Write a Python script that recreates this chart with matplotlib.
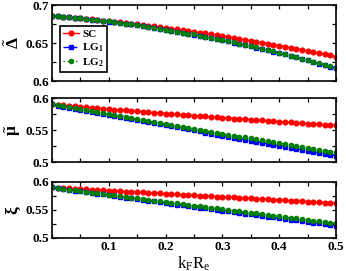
import matplotlib
matplotlib.use('Agg')
import matplotlib.pyplot as plt
from matplotlib.ticker import MultipleLocator

plt.rcParams['font.family'] = ['Liberation Serif', 'DejaVu Serif']
plt.rcParams['font.weight'] = 'bold'
plt.rcParams['mathtext.fontset'] = 'custom'
plt.rcParams['mathtext.rm'] = 'Liberation Serif:bold'
plt.rcParams['mathtext.it'] = 'Liberation Serif:bold'
plt.rcParams['mathtext.bf'] = 'Liberation Serif:bold'

# k_F R_e grid
kfre = [0.00, 0.01, 0.02, 0.03, 0.04, 0.05, 0.06, 0.07, 0.08, 0.09,
        0.10, 0.11, 0.12, 0.13, 0.14, 0.15, 0.16, 0.17, 0.18, 0.19,
        0.20, 0.21, 0.22, 0.23, 0.24, 0.25, 0.26, 0.27, 0.28, 0.29,
        0.30, 0.31, 0.32, 0.33, 0.34, 0.35, 0.36, 0.37, 0.38, 0.39,
        0.40, 0.41, 0.42, 0.43, 0.44, 0.45, 0.46, 0.47, 0.48, 0.49, 0.50]

# gap
delta_sc = [0.6860, 0.6854, 0.6847, 0.6841, 0.6834, 0.6827, 0.6820, 0.6812, 0.6805, 0.6797,
            0.6789, 0.6781, 0.6773, 0.6765, 0.6756, 0.6747, 0.6738, 0.6729, 0.6719, 0.6710,
            0.6700, 0.6690, 0.6680, 0.6670, 0.6659, 0.6649, 0.6638, 0.6627, 0.6615, 0.6604,
            0.6592, 0.6581, 0.6569, 0.6556, 0.6544, 0.6532, 0.6519, 0.6506, 0.6493, 0.6480,
            0.6466, 0.6452, 0.6439, 0.6425, 0.6410, 0.6396, 0.6381, 0.6367, 0.6352, 0.6337, 0.6321]
delta_lg1 = [0.6860, 0.6854, 0.6847, 0.6840, 0.6833, 0.6826, 0.6818, 0.6810, 0.6802, 0.6793,
             0.6784, 0.6775, 0.6765, 0.6755, 0.6745, 0.6734, 0.6723, 0.6712, 0.6701, 0.6689,
             0.6677, 0.6664, 0.6651, 0.6638, 0.6625, 0.6611, 0.6597, 0.6583, 0.6568, 0.6553,
             0.6538, 0.6523, 0.6507, 0.6490, 0.6474, 0.6457, 0.6440, 0.6423, 0.6405, 0.6387,
             0.6368, 0.6350, 0.6331, 0.6311, 0.6292, 0.6272, 0.6251, 0.6231, 0.6210, 0.6189, 0.6167]
delta_lg2 = [0.6860, 0.6854, 0.6847, 0.6840, 0.6833, 0.6826, 0.6818, 0.6810, 0.6802, 0.6793,
             0.6785, 0.6776, 0.6766, 0.6756, 0.6746, 0.6735, 0.6724, 0.6713, 0.6702, 0.6690,
             0.6678, 0.6665, 0.6652, 0.6639, 0.6626, 0.6614, 0.6600, 0.6586, 0.6571, 0.6556,
             0.6541, 0.6526, 0.6510, 0.6493, 0.6477, 0.6460, 0.6443, 0.6426, 0.6408, 0.6390,
             0.6371, 0.6353, 0.6334, 0.6314, 0.6295, 0.6275, 0.6254, 0.6234, 0.6213, 0.6192, 0.6170]

# chemical potential
mu_sc = [0.5900, 0.5893, 0.5885, 0.5878, 0.5871, 0.5863, 0.5856, 0.5849, 0.5842, 0.5835,
         0.5828, 0.5821, 0.5814, 0.5807, 0.5800, 0.5793, 0.5786, 0.5779, 0.5772, 0.5766,
         0.5759, 0.5752, 0.5745, 0.5739, 0.5732, 0.5726, 0.5719, 0.5713, 0.5706, 0.5700,
         0.5693, 0.5687, 0.5681, 0.5675, 0.5668, 0.5662, 0.5656, 0.5650, 0.5644, 0.5638,
         0.5632, 0.5626, 0.5620, 0.5614, 0.5608, 0.5602, 0.5596, 0.5590, 0.5585, 0.5579, 0.5573]
mu_lg1 = [0.5900, 0.5884, 0.5867, 0.5851, 0.5834, 0.5818, 0.5801, 0.5785, 0.5769, 0.5752,
          0.5736, 0.5720, 0.5703, 0.5687, 0.5671, 0.5655, 0.5639, 0.5622, 0.5606, 0.5590,
          0.5574, 0.5558, 0.5542, 0.5526, 0.5510, 0.5494, 0.5478, 0.5462, 0.5446, 0.5430,
          0.5414, 0.5398, 0.5382, 0.5366, 0.5351, 0.5335, 0.5319, 0.5303, 0.5287, 0.5272,
          0.5256, 0.5240, 0.5225, 0.5209, 0.5193, 0.5178, 0.5162, 0.5147, 0.5131, 0.5116, 0.5100]
mu_lg2 = [0.5900, 0.5885, 0.5869, 0.5854, 0.5838, 0.5823, 0.5807, 0.5792, 0.5777, 0.5761,
          0.5746, 0.5731, 0.5715, 0.5700, 0.5685, 0.5670, 0.5655, 0.5639, 0.5624, 0.5609,
          0.5594, 0.5579, 0.5564, 0.5549, 0.5534, 0.5519, 0.5504, 0.5489, 0.5474, 0.5459,
          0.5444, 0.5429, 0.5414, 0.5399, 0.5385, 0.5370, 0.5355, 0.5340, 0.5325, 0.5311,
          0.5296, 0.5281, 0.5267, 0.5252, 0.5237, 0.5223, 0.5208, 0.5194, 0.5179, 0.5165, 0.5150]

# xi
xi_sc = [0.5900, 0.5894, 0.5889, 0.5883, 0.5878, 0.5872, 0.5866, 0.5861, 0.5855, 0.5850,
         0.5844, 0.5838, 0.5833, 0.5827, 0.5822, 0.5816, 0.5810, 0.5805, 0.5799, 0.5794,
         0.5788, 0.5782, 0.5777, 0.5771, 0.5766, 0.5760, 0.5754, 0.5749, 0.5743, 0.5738,
         0.5732, 0.5726, 0.5721, 0.5715, 0.5710, 0.5704, 0.5698, 0.5693, 0.5687, 0.5682,
         0.5676, 0.5670, 0.5665, 0.5659, 0.5654, 0.5648, 0.5642, 0.5637, 0.5631, 0.5626, 0.5620]
xi_lg1 = [0.5900, 0.5886, 0.5872, 0.5858, 0.5844, 0.5830, 0.5816, 0.5802, 0.5789, 0.5775,
          0.5761, 0.5747, 0.5733, 0.5719, 0.5706, 0.5692, 0.5678, 0.5664, 0.5651, 0.5637,
          0.5623, 0.5610, 0.5596, 0.5582, 0.5569, 0.5555, 0.5541, 0.5528, 0.5514, 0.5501,
          0.5487, 0.5474, 0.5460, 0.5447, 0.5433, 0.5420, 0.5406, 0.5393, 0.5380, 0.5366,
          0.5353, 0.5339, 0.5326, 0.5313, 0.5299, 0.5286, 0.5273, 0.5260, 0.5246, 0.5233, 0.5220]
xi_lg2 = [0.5900, 0.5887, 0.5874, 0.5861, 0.5848, 0.5835, 0.5822, 0.5809, 0.5796, 0.5783,
          0.5770, 0.5757, 0.5745, 0.5732, 0.5719, 0.5706, 0.5693, 0.5680, 0.5667, 0.5654,
          0.5642, 0.5629, 0.5616, 0.5603, 0.5590, 0.5578, 0.5565, 0.5552, 0.5539, 0.5526,
          0.5514, 0.5501, 0.5488, 0.5475, 0.5463, 0.5450, 0.5437, 0.5424, 0.5412, 0.5399,
          0.5386, 0.5374, 0.5361, 0.5348, 0.5336, 0.5323, 0.5310, 0.5298, 0.5285, 0.5273, 0.5260]

fig = plt.figure(figsize=(3.46, 2.71), dpi=100)

# panel boxes in figure fractions (left, bottom, width, height)
boxes = [(0.150, 0.701, 0.821, 0.280),
         (0.150, 0.402, 0.821, 0.236),
         (0.150, 0.122, 0.821, 0.207)]
panels = [(delta_sc, delta_lg1, delta_lg2, r'$\tilde{\Delta}$', (0.6, 0.7)),
          (mu_sc, mu_lg1, mu_lg2, r'$\tilde{\mu}$', (0.5, 0.6)),
          (xi_sc, xi_lg1, xi_lg2, r'$\xi$', (0.5, 0.6))]

axes = []
for box, (sc, lg1, lg2, lab, ylim) in zip(boxes, panels):
    ax = fig.add_axes(box)
    ax.plot(kfre, sc, color='red', marker='o', markersize=3.4, linewidth=1.0, label='SC')
    ax.plot(kfre, lg1, color='blue', marker='s', markersize=3.0, linewidth=1.0,
            linestyle=(0, (4, 2)), label=r'LG$_1$')
    ax.plot(kfre, lg2, color='green', marker='o', markersize=3.0, linewidth=1.0,
            linestyle=(0, (1, 2)), label=r'LG$_2$')
    ax.set_xlim(0, 0.5)
    ax.set_ylim(*ylim)
    ax.xaxis.set_major_locator(MultipleLocator(0.1))
    ax.xaxis.set_minor_locator(MultipleLocator(0.05))
    ax.yaxis.set_major_locator(MultipleLocator(0.05))
    ax.yaxis.set_minor_locator(MultipleLocator(0.025))
    ax.tick_params(which='both', direction='in', top=True, right=True,
                   length=3, width=0.9, labelsize=9.5, pad=2)
    ax.set_yticklabels([('%g' % t) for t in ax.get_yticks()])
    for s in ax.spines.values():
        s.set_linewidth(1.2)
    ax.set_ylabel(lab, fontsize=12.5)
    ax.yaxis.set_label_coords(-0.1, 0.5)
    axes.append(ax)

for ax in axes[:2]:
    ax.tick_params(labelbottom=False)

axes[2].set_xticks([0.1, 0.2, 0.3, 0.4, 0.5])
axes[2].set_xticklabels(['0.1', '0.2', '0.3', '0.4', '0.5'])
axes[2].set_xlabel(r'k$_\mathregular{F}$R$_\mathregular{e}$', fontsize=12, labelpad=1)

leg = axes[0].legend(loc='lower left', bbox_to_anchor=(0.028, 0.118), borderaxespad=0,
                     fontsize=8, handlelength=1.4, handletextpad=0.3, labelspacing=0.2,
                     borderpad=0.3, fancybox=False, framealpha=1, edgecolor='black')
leg.get_frame().set_linewidth(1.2)

plt.savefig('out.png', dpi=100)
